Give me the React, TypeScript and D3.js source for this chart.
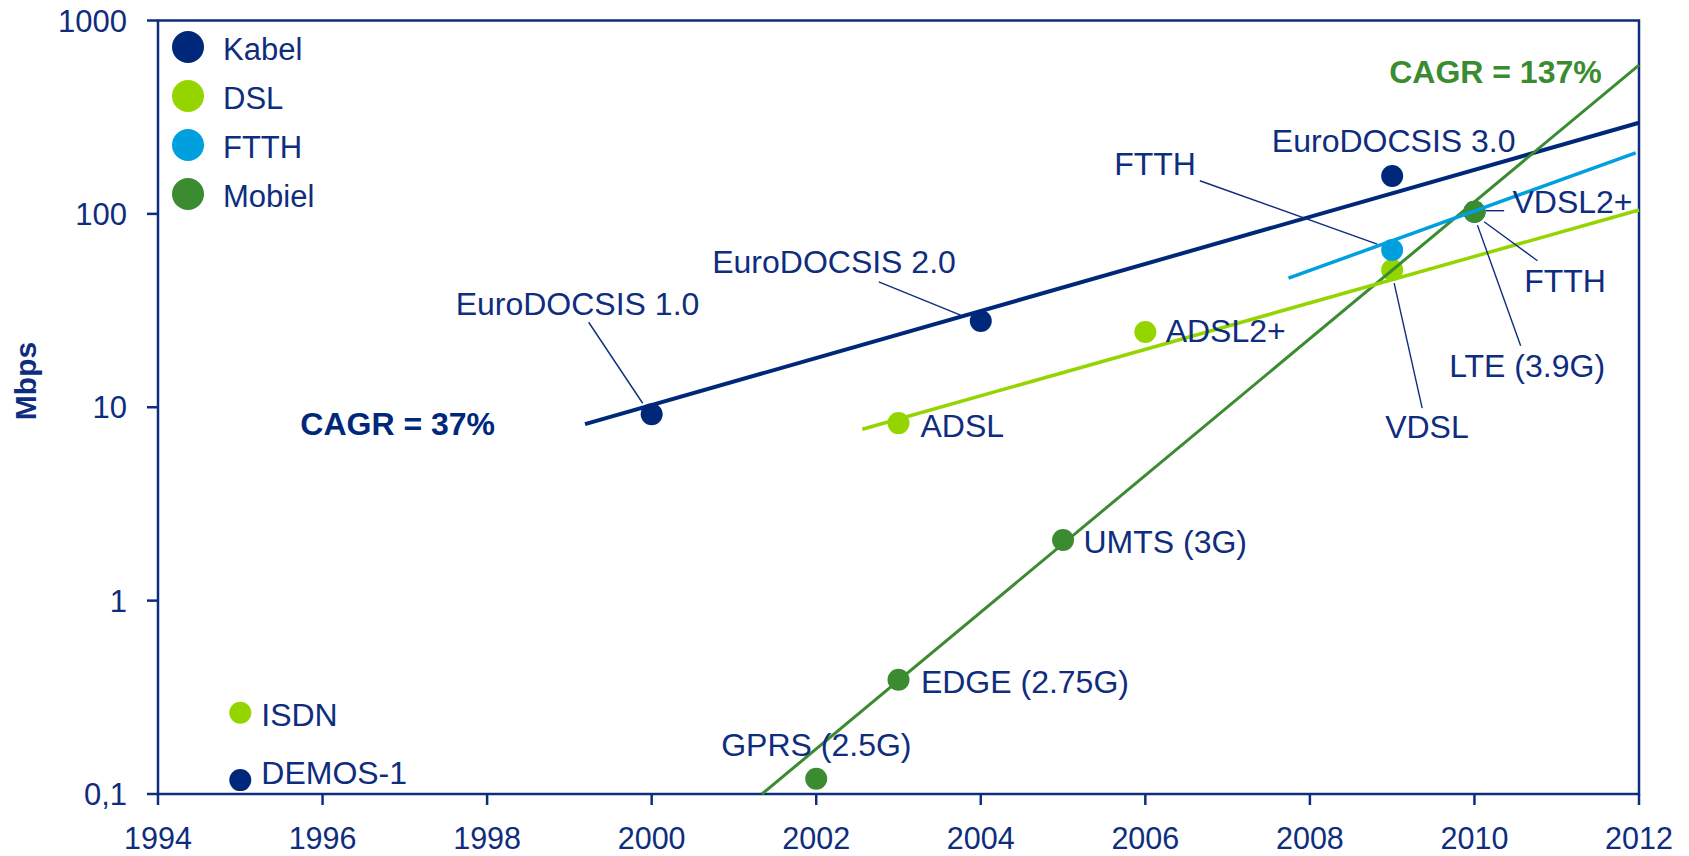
import React from "react";
import * as d3 from "d3";

// ---------- data ----------
const seriesNames = ["Kabel", "DSL", "FTTH", "Mobiel"];
const seriesColors = ["#00287A", "#94D500", "#00A0DF", "#3B8B31"];

const kabelYears = [1995, 2000, 2004, 2009];
const kabelValues = [0.118, 9.2, 27.9, 157];
const kabelLabels = ["DEMOS-1", "EuroDOCSIS 1.0", "EuroDOCSIS 2.0", "EuroDOCSIS 3.0"];

const dslYears = [1995, 2003, 2006, 2009, 2010];
const dslValues = [0.263, 8.28, 24.5, 51.2, 102.6];
const dslLabels = ["ISDN", "ADSL", "ADSL2+", "VDSL", "VDSL2+"];

const ftthYears = [2009, 2010];
const ftthValues = [65, 102.6];
const ftthLabels = ["FTTH", "FTTH"];

const mobielYears = [2002, 2003, 2005, 2010];
const mobielValues = [0.12, 0.39, 2.06, 102.6];
const mobielLabels = ["GPRS (2.5G)", "EDGE (2.75G)", "UMTS (3G)", "LTE (3.9G)"];

const kabelTrendYears = [1999.19, 2012];
const kabelTrendValues = [8.18, 296];
const dslTrendYears = [2002.56, 2012];
const dslTrendValues = [7.7, 104.7];
const ftthTrendYears = [2007.74, 2011.96];
const ftthTrendValues = [46.5, 207];
const mobielTrendYears = [2001.34, 2012];
const mobielTrendValues = [0.1, 588];

const xTicks = [1994, 1996, 1998, 2000, 2002, 2004, 2006, 2008, 2010, 2012];
const yTicks = [0.1, 1, 10, 100, 1000];
const yTickLabels = ["0,1", "1", "10", "100", "1000"];
const yAxisTitle = "Mbps";
const cagrKabel = "CAGR = 37%";
const cagrMobiel = "CAGR = 137%";

// label placement (pixel offsets from the point) + optional leader line
type Place = { dx: number; dy: number; leader?: [number, number, number, number] };
const kabelPlace: Place[] = [
  { dx: 21, dy: 4 },
  { dx: -196, dy: -99, leader: [-63, -92, -9, -11] },
  { dx: -268.6, dy: -47.7, leader: [-102, -39.3, -20.2, -6] },
  { dx: -120.3, dy: -24.2 },
];
const dslPlace: Place[] = [
  { dx: 21, dy: 13 },
  { dx: 22, dy: 14 },
  { dx: 20.3, dy: 10.5 },
  { dx: -7, dy: 168, leader: [2, 13, 30, 138] },
  { dx: 38, dy: 1.7, leader: [11.4, -1, 29.7, -1] },
];
const ftthPlace: Place[] = [
  { dx: -278, dy: -75, leader: [-192.3, -69.3, -15, -6] },
  { dx: 49.7, dy: 80, leader: [9.7, 10, 63, 49] },
];
const mobielPlace: Place[] = [
  { dx: -95, dy: -22.7 },
  { dx: 22.4, dy: 13.3 },
  { dx: 20.4, dy: 13 },
  { dx: -25.3, dy: 165.4, leader: [3, 13.4, 46.2, 134] },
];

const W = 1689;
const H = 856;
const M = { left: 158, right: 1639, top: 20.5, bottom: 794 };
const TEXT = "#0F2D7E";
const FONT = "'Liberation Sans', Arial, Helvetica, sans-serif";

export default function App() {
  const x = d3.scaleLinear().domain([1994, 2012]).range([M.left, M.right]);
  const y = d3.scaleLog().domain([0.1, 1000]).range([M.bottom, M.top]);
  const line = d3
    .line<[number, number]>()
    .x((d) => x(d[0]))
    .y((d) => y(d[1]));

  const series = [
    { years: kabelYears, values: kabelValues, labels: kabelLabels, place: kabelPlace, tY: kabelTrendYears, tV: kabelTrendValues, w: 4 },
    { years: dslYears, values: dslValues, labels: dslLabels, place: dslPlace, tY: dslTrendYears, tV: dslTrendValues, w: 3.5 },
    { years: ftthYears, values: ftthValues, labels: ftthLabels, place: ftthPlace, tY: ftthTrendYears, tV: ftthTrendValues, w: 3.5 },
    { years: mobielYears, values: mobielValues, labels: mobielLabels, place: mobielPlace, tY: mobielTrendYears, tV: mobielTrendValues, w: 3 },
  ];
  const lineOrder = [0, 3, 1, 2];

  return (
    <svg
      width={W}
      height={H}
      style={{ position: "absolute", left: 0, top: 0, background: "#fff" }}
      fontFamily={FONT}
    >
      {/* frame */}
      <rect
        x={M.left}
        y={M.top}
        width={M.right - M.left}
        height={M.bottom - M.top}
        fill="none"
        stroke={TEXT}
        strokeWidth={2.5}
      />
      {/* y ticks */}
      {yTicks.map((t, i) => (
        <g key={"yt" + i}>
          <line x1={M.left - 11} x2={M.left} y1={y(t)} y2={y(t)} stroke={TEXT} strokeWidth={2.5} />
          <text x={M.left - 31} y={y(t)} dy="0.36em" textAnchor="end" fontSize={31} fill={TEXT}>
            {yTickLabels[i]}
          </text>
        </g>
      ))}
      {/* x ticks */}
      {xTicks.map((t) => (
        <g key={"xt" + t}>
          <line x1={x(t)} x2={x(t)} y1={M.bottom} y2={M.bottom + 11} stroke={TEXT} strokeWidth={2.5} />
          <text x={x(t)} y={849} textAnchor="middle" fontSize={30.5} fill={TEXT}>
            {t}
          </text>
        </g>
      ))}
      {/* y title */}
      <text
        transform={`translate(36,381) rotate(-90)`}
        textAnchor="middle"
        fontSize={30}
        fontWeight="bold"
        fill={TEXT}
      >
        {yAxisTitle}
      </text>

      {/* points */}
      {series.map((s, si) =>
        s.years.map((yr, i) => (
          <circle key={`p${si}-${i}`} cx={x(yr)} cy={y(s.values[i])} r={11} fill={seriesColors[si]} />
        ))
      )}
      {/* LTE drawn above FTTH 2010 */}
      <circle cx={x(mobielYears[3])} cy={y(mobielValues[3])} r={11} fill={seriesColors[3]} />

      {/* trend lines */}
      {lineOrder.map((si) => {
        const s = series[si];
        const pts: [number, number][] = s.tY.map((yr, i) => [yr, s.tV[i]]);
        return (
          <path key={"tl" + si} d={line(pts) || ""} fill="none" stroke={seriesColors[si]} strokeWidth={s.w} />
        );
      })}

      {/* leader lines and labels */}
      {series.map((s, si) =>
        s.years.map((yr, i) => {
          const px = x(yr);
          const py = y(s.values[i]);
          const p = s.place[i];
          return (
            <g key={`l${si}-${i}`}>
              {p.leader && (
                <line
                  x1={px + p.leader[0]}
                  y1={py + p.leader[1]}
                  x2={px + p.leader[2]}
                  y2={py + p.leader[3]}
                  stroke={TEXT}
                  strokeWidth={1.4}
                />
              )}
              <text x={px + p.dx} y={py + p.dy} fontSize={32} fill={TEXT}>
                {s.labels[i]}
              </text>
            </g>
          );
        })
      )}

      {/* CAGR labels */}
      <text
        x={x(kabelTrendYears[0]) - 90}
        y={y(kabelTrendValues[0]) + 11}
        textAnchor="end"
        fontSize={32}
        fontWeight="bold"
        fill={seriesColors[0]}
      >
        {cagrKabel}
      </text>
      <text
        x={x(mobielTrendYears[1]) - 37.3}
        y={y(mobielTrendValues[1]) + 17.7}
        textAnchor="end"
        fontSize={32}
        fontWeight="bold"
        fill={seriesColors[3]}
      >
        {cagrMobiel}
      </text>

      {/* legend */}
      {seriesNames.map((n, i) => (
        <g key={"lg" + n} transform={`translate(188,${47 + i * 49})`}>
          <circle r={16} fill={seriesColors[i]} />
          <text x={35} y={13} fontSize={31} fill={TEXT}>
            {n}
          </text>
        </g>
      ))}
    </svg>
  );
}
